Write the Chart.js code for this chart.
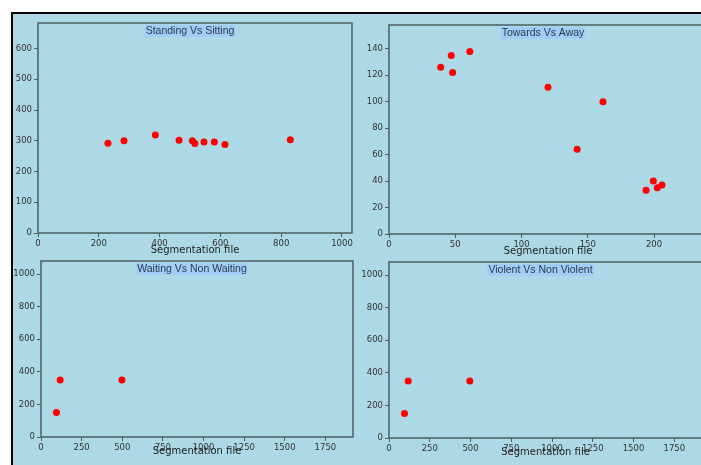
<!DOCTYPE html>
<html>
<head>
<meta charset="utf-8">
<script src="https://cdn.jsdelivr.net/npm/chart.js@4"></script>
<style>
body { margin: 0; width: 701px; height: 465px; overflow: hidden; background: #fff; position: relative; }
#fundo { position: absolute; left: 11px; top: 12px; width: 700px; height: 460px; background: #add8e6; border-top: 2px solid #000; border-left: 2px solid #000; }
canvas { position: absolute; }
</style>
</head>
<body>
<div id="fundo"></div>
<canvas id="g1"></canvas>
<canvas id="g2"></canvas>
<canvas id="g3"></canvas>
<canvas id="g4"></canvas>
<script>
// Dados de exemplo
const titulos = ['Standing Vs Sitting', 'Towards Vs Away', 'Waiting Vs Non Waiting', 'Violent Vs Non Violent'];
const rotuloX = 'Segmentation file';

const standingX = [230, 283, 386, 464, 508, 516, 546, 580, 615, 830];
const standingY = [292, 300, 319, 302, 300, 291, 296, 296, 288, 303];

const towardsX = [39, 47, 48, 61, 120, 142, 161.5, 194, 199.5, 202.5, 206];
const towardsY = [126, 135, 122, 138, 111, 64, 100, 33, 40, 35, 37];

const waitingX = [95, 118, 498];
const waitingY = [150, 350, 350];

const violentX = [95, 118, 496];
const violentY = [150, 350, 350];

// Ticks e limites
const ticksX1 = [0, 200, 400, 600, 800, 1000];
const ticksY1 = [0, 100, 200, 300, 400, 500, 600];
const ticksX2 = [0, 50, 100, 150, 200];
const ticksY2 = [0, 20, 40, 60, 80, 100, 120, 140];
const ticksX34 = [0, 250, 500, 750, 1000, 1250, 1500, 1750];
const ticksY34 = [0, 200, 400, 600, 800, 1000];
const limites = [[1033, 683], [240, 158], [1920, 1080], [1920, 1080]];

// Posição de cada painel
const paineis = [
    { id: 'g1', left: 0, top: 12, w: 360, h: 250, yW: 38, xH: 29, padTop: 11, padRight: 8, offRotulo: 17 },
    { id: 'g2', left: 350, top: 12, w: 380, h: 252, yW: 39, xH: 30, padTop: 13, padRight: 23, offRotulo: 17 },
    { id: 'g3', left: 0, top: 250, w: 360, h: 215, yW: 41, xH: 28, padTop: 11, padRight: 7, offRotulo: 14 },
    { id: 'g4', left: 350, top: 250, w: 360, h: 215, yW: 39, xH: 27, padTop: 12, padRight: 8, offRotulo: 14 }
];

const corEixo = '#4d5d63';

// Moldura, título e rótulo do eixo x
const moldura = {
    id: 'moldura',
    afterDraw(chart, args, opts) {
        const ctx = chart.ctx, a = chart.chartArea;
        ctx.save();
        ctx.strokeStyle = corEixo;
        ctx.lineWidth = 1.5;
        ctx.strokeRect(a.left, a.top, a.right - a.left, a.bottom - a.top);
        const cx = (a.left + a.right) / 2;
        ctx.font = '10.5px "Liberation Sans"';
        const w = ctx.measureText(opts.titulo).width;
        ctx.fillStyle = '#a2cdf6';
        ctx.fillRect(cx - 5 - w / 2 - 1, a.top + 2, w + 2, 12);
        ctx.fillStyle = '#2a3a4c';
        ctx.textAlign = 'center';
        ctx.textBaseline = 'middle';
        ctx.fillText(opts.titulo, cx - 5, a.top + 8.5);
        ctx.font = '10px "DejaVu Sans"';
        ctx.fillStyle = '#222';
        ctx.fillText(rotuloX, cx, a.bottom + opts.offRotulo);
        ctx.restore();
    }
};

function pontos(xs, ys) {
    return xs.map((x, i) => ({ x: x, y: ys[i] }));
}

function criarGrafico(i, xs, ys, tX, tY) {
    const p = paineis[i];
    const canvas = document.getElementById(p.id);
    canvas.width = p.w;
    canvas.height = p.h;
    canvas.style.left = p.left + 'px';
    canvas.style.top = p.top + 'px';
    canvas.style.width = p.w + 'px';
    canvas.style.height = p.h + 'px';

    const eixo = (min, max, ticks, horizontal, tam) => ({
        type: 'linear',
        min: min,
        max: max,
        border: { display: false },
        grid: { display: true, drawOnChartArea: false, drawTicks: true, tickLength: 4, color: corEixo, lineWidth: 1 },
        ticks: {
            color: '#333',
            font: { family: 'DejaVu Sans', size: 8.5 },
            padding: 2,
            maxRotation: 0,
            autoSkip: false,
            callback: v => String(v)
        },
        afterBuildTicks: s => { s.ticks = ticks.map(v => ({ value: v })); },
        afterFit: s => { if (horizontal) s.height = tam; else s.width = tam; }
    });

    return new Chart(canvas.getContext('2d'), {
        type: 'scatter',
        data: {
            datasets: [{
                data: pontos(xs, ys),
                backgroundColor: '#ff0000',
                borderWidth: 0,
                pointRadius: 3.5
            }]
        },
        options: {
            responsive: false,
            animation: false,
            layout: { padding: { top: p.padTop, right: p.padRight, left: 0, bottom: 0 } },
            plugins: {
                legend: { display: false },
                tooltip: { enabled: false },
                moldura: { titulo: titulos[i], offRotulo: p.offRotulo }
            },
            scales: {
                x: eixo(0, limites[i][0], tX, true, p.xH),
                y: eixo(0, limites[i][1], tY, false, p.yW)
            }
        },
        plugins: [moldura]
    });
}

criarGrafico(0, standingX, standingY, ticksX1, ticksY1);
criarGrafico(1, towardsX, towardsY, ticksX2, ticksY2);
criarGrafico(2, waitingX, waitingY, ticksX34, ticksY34);
criarGrafico(3, violentX, violentY, ticksX34, ticksY34);
</script>
</body>
</html>
